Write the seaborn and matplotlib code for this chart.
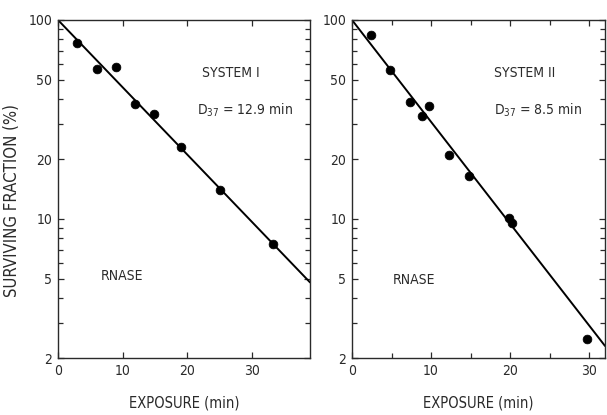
import numpy as np
import matplotlib
matplotlib.use("Agg")
import matplotlib.pyplot as plt
from matplotlib.ticker import LogLocator, FixedLocator, NullFormatter, NullLocator
import seaborn as sns

# System I data
sys1_x = [2.9, 6.0, 8.9, 11.9, 14.9, 19.1, 25.1, 33.2]
sys1_y = [77, 57, 58, 38, 33.5, 23, 14, 7.5]
sys1_fit_x = [0, 39]
sys1_fit_y = [100, 4.8]

# System II data
sys2_x = [2.4, 4.8, 7.3, 8.8, 9.8, 12.3, 14.8, 19.8, 20.3, 29.7]
sys2_y = [84, 56, 38.5, 33, 37, 21, 16.5, 10.1, 9.5, 2.5]
sys2_fit_x = [0, 32]
sys2_fit_y = [100, 2.3]

Y_TICKS = [2, 5, 10, 20, 50, 100]
X_TICKS = [0, 10, 20, 30]
X_MINOR_SYS2 = [5, 15, 25]

sns.set_style("ticks")
plt.rcParams["font.family"] = ["DejaVu Sans"]
plt.rcParams["font.stretch"] = "condensed"

fig = plt.figure(figsize=(6.07, 4.15), dpi=100)
ax1 = fig.add_axes([58 / 607, 57 / 415, 252 / 607, 338 / 415])
ax2 = fig.add_axes([352 / 607, 57 / 415, 253 / 607, 338 / 415])
INK = "#2a2a2a"


def style_panel(ax, xmax, x_minor):
    ax.set_yscale("log")
    ax.set_ylim(2, 100)
    ax.set_xlim(0, xmax)
    ax.yaxis.set_major_locator(FixedLocator(Y_TICKS))
    ax.set_yticklabels([str(t) for t in Y_TICKS])
    ax.yaxis.set_minor_locator(LogLocator(base=10, subs=np.arange(2, 10)))
    ax.yaxis.set_minor_formatter(NullFormatter())
    ax.xaxis.set_major_locator(FixedLocator(X_TICKS))
    ax.set_xticklabels([str(t) for t in X_TICKS])
    if x_minor:
        ax.xaxis.set_minor_locator(FixedLocator(x_minor))
    else:
        ax.xaxis.set_minor_locator(NullLocator())
    ax.tick_params(which="both", direction="in", top=True, right=True,
                   labelsize=10, width=0.9, colors=INK, pad=4)
    ax.tick_params(which="major", length=4)
    ax.tick_params(which="minor", length=3.5)
    for s in ax.spines.values():
        s.set_linewidth(1.0)
        s.set_color(INK)
    ax.set_xlabel("EXPOSURE (min)", fontsize=10.5, labelpad=13, color=INK)


# left panel
sns.lineplot(x=sys1_fit_x, y=sys1_fit_y, ax=ax1, color="black", lw=1.4)
sns.scatterplot(x=sys1_x, y=sys1_y, ax=ax1, color="black", s=40,
                edgecolor="black", zorder=3)
style_panel(ax1, 39, None)
ax1.set_ylabel("SURVIVING FRACTION (%)", fontsize=12, color=INK)
ax1.yaxis.set_label_coords(-0.145, 0.467)
ax1.text(0.57, 0.83, "SYSTEM I", transform=ax1.transAxes, fontsize=10, color=INK)
ax1.text(0.55, 0.72, r"D$_{37}$ = 12.9 min", transform=ax1.transAxes, fontsize=10, color=INK)
ax1.text(0.17, 0.23, "RNASE", transform=ax1.transAxes, fontsize=10, color=INK)

# right panel
sns.lineplot(x=sys2_fit_x, y=sys2_fit_y, ax=ax2, color="black", lw=1.4)
sns.scatterplot(x=sys2_x, y=sys2_y, ax=ax2, color="black", s=40,
                edgecolor="black", zorder=3)
style_panel(ax2, 32, X_MINOR_SYS2)
ax2.set_ylabel("")
ax2.text(0.56, 0.83, "SYSTEM II", transform=ax2.transAxes, fontsize=10, color=INK)
ax2.text(0.56, 0.72, r"D$_{37}$ = 8.5 min", transform=ax2.transAxes, fontsize=10, color=INK)
ax2.text(0.16, 0.22, "RNASE", transform=ax2.transAxes, fontsize=10, color=INK)

fig.savefig("out.png", dpi=100)
